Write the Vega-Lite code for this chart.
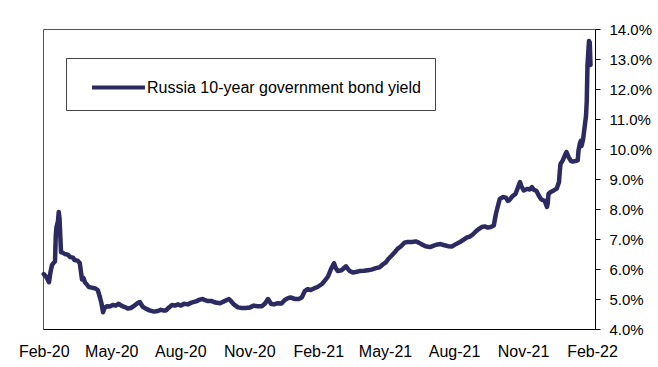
{
  "$schema": "https://vega.github.io/schema/vega-lite/v6.json",
  "width": 552,
  "height": 300,
  "autosize": {"type": "none"},
  "padding": {"left": 43, "top": 29, "right": 63, "bottom": 38},
  "background": "white",
  "config": {
    "font": "Liberation Sans",
    "view": {"stroke": "#555555", "strokeWidth": 1}
  },
  "data": {
    "values": [
      {"date": "2020-02-01", "yield": 5.83},
      {"date": "2020-02-04", "yield": 5.75},
      {"date": "2020-02-08", "yield": 5.56},
      {"date": "2020-02-10", "yield": 5.9},
      {"date": "2020-02-12", "yield": 6.13},
      {"date": "2020-02-14", "yield": 6.2},
      {"date": "2020-02-16", "yield": 6.25},
      {"date": "2020-02-17", "yield": 7.1},
      {"date": "2020-02-18", "yield": 7.4},
      {"date": "2020-02-20", "yield": 7.6},
      {"date": "2020-02-21", "yield": 7.9},
      {"date": "2020-02-22", "yield": 7.7},
      {"date": "2020-02-24", "yield": 6.56},
      {"date": "2020-02-26", "yield": 6.55},
      {"date": "2020-02-29", "yield": 6.5},
      {"date": "2020-03-04", "yield": 6.48},
      {"date": "2020-03-07", "yield": 6.4},
      {"date": "2020-03-11", "yield": 6.38},
      {"date": "2020-03-13", "yield": 6.3},
      {"date": "2020-03-17", "yield": 6.28},
      {"date": "2020-03-20", "yield": 6.2},
      {"date": "2020-03-23", "yield": 5.65},
      {"date": "2020-03-25", "yield": 5.7},
      {"date": "2020-03-27", "yield": 5.55},
      {"date": "2020-03-29", "yield": 5.5},
      {"date": "2020-04-01", "yield": 5.4},
      {"date": "2020-04-05", "yield": 5.38},
      {"date": "2020-04-10", "yield": 5.35},
      {"date": "2020-04-13", "yield": 5.3},
      {"date": "2020-04-16", "yield": 5.05},
      {"date": "2020-04-18", "yield": 4.85},
      {"date": "2020-04-20", "yield": 4.56},
      {"date": "2020-04-22", "yield": 4.7},
      {"date": "2020-04-25", "yield": 4.76},
      {"date": "2020-04-29", "yield": 4.75},
      {"date": "2020-05-03", "yield": 4.8},
      {"date": "2020-05-07", "yield": 4.78},
      {"date": "2020-05-11", "yield": 4.84},
      {"date": "2020-05-15", "yield": 4.77},
      {"date": "2020-05-19", "yield": 4.73},
      {"date": "2020-05-23", "yield": 4.68},
      {"date": "2020-05-27", "yield": 4.7},
      {"date": "2020-06-01", "yield": 4.78},
      {"date": "2020-06-05", "yield": 4.86},
      {"date": "2020-06-08", "yield": 4.9},
      {"date": "2020-06-12", "yield": 4.74},
      {"date": "2020-06-16", "yield": 4.68},
      {"date": "2020-06-21", "yield": 4.62},
      {"date": "2020-06-27", "yield": 4.58},
      {"date": "2020-07-02", "yield": 4.6},
      {"date": "2020-07-06", "yield": 4.64},
      {"date": "2020-07-09", "yield": 4.62},
      {"date": "2020-07-13", "yield": 4.62},
      {"date": "2020-07-17", "yield": 4.72},
      {"date": "2020-07-21", "yield": 4.8},
      {"date": "2020-07-25", "yield": 4.78},
      {"date": "2020-07-29", "yield": 4.82},
      {"date": "2020-08-02", "yield": 4.78},
      {"date": "2020-08-06", "yield": 4.84},
      {"date": "2020-08-11", "yield": 4.82},
      {"date": "2020-08-16", "yield": 4.88},
      {"date": "2020-08-22", "yield": 4.92},
      {"date": "2020-08-27", "yield": 4.98},
      {"date": "2020-08-31", "yield": 5.0},
      {"date": "2020-09-03", "yield": 4.96},
      {"date": "2020-09-07", "yield": 4.93},
      {"date": "2020-09-12", "yield": 4.93},
      {"date": "2020-09-17", "yield": 4.88},
      {"date": "2020-09-23", "yield": 4.86},
      {"date": "2020-09-29", "yield": 4.93},
      {"date": "2020-10-05", "yield": 5.0},
      {"date": "2020-10-07", "yield": 4.95},
      {"date": "2020-10-11", "yield": 4.83},
      {"date": "2020-10-17", "yield": 4.72},
      {"date": "2020-10-22", "yield": 4.7},
      {"date": "2020-10-27", "yield": 4.7},
      {"date": "2020-11-02", "yield": 4.72},
      {"date": "2020-11-07", "yield": 4.78},
      {"date": "2020-11-12", "yield": 4.76},
      {"date": "2020-11-18", "yield": 4.76},
      {"date": "2020-11-22", "yield": 4.85},
      {"date": "2020-11-26", "yield": 5.0},
      {"date": "2020-11-30", "yield": 4.84},
      {"date": "2020-12-04", "yield": 4.82},
      {"date": "2020-12-09", "yield": 4.86},
      {"date": "2020-12-14", "yield": 4.85},
      {"date": "2020-12-18", "yield": 4.96},
      {"date": "2020-12-22", "yield": 5.02},
      {"date": "2020-12-26", "yield": 5.05},
      {"date": "2021-01-01", "yield": 5.0},
      {"date": "2021-01-06", "yield": 5.0},
      {"date": "2021-01-10", "yield": 5.05},
      {"date": "2021-01-14", "yield": 5.26},
      {"date": "2021-01-18", "yield": 5.33},
      {"date": "2021-01-22", "yield": 5.3},
      {"date": "2021-01-27", "yield": 5.36},
      {"date": "2021-01-31", "yield": 5.4},
      {"date": "2021-02-06", "yield": 5.5},
      {"date": "2021-02-10", "yield": 5.62},
      {"date": "2021-02-14", "yield": 5.75},
      {"date": "2021-02-18", "yield": 6.0},
      {"date": "2021-02-22", "yield": 6.19},
      {"date": "2021-02-24", "yield": 6.05},
      {"date": "2021-02-27", "yield": 5.93},
      {"date": "2021-03-04", "yield": 5.96},
      {"date": "2021-03-10", "yield": 6.09},
      {"date": "2021-03-12", "yield": 6.02},
      {"date": "2021-03-15", "yield": 5.93},
      {"date": "2021-03-19", "yield": 5.88},
      {"date": "2021-03-23", "yield": 5.9},
      {"date": "2021-03-28", "yield": 5.93},
      {"date": "2021-04-03", "yield": 5.94},
      {"date": "2021-04-08", "yield": 5.96},
      {"date": "2021-04-13", "yield": 5.98},
      {"date": "2021-04-19", "yield": 6.03},
      {"date": "2021-04-24", "yield": 6.06},
      {"date": "2021-04-28", "yield": 6.15},
      {"date": "2021-05-02", "yield": 6.22},
      {"date": "2021-05-06", "yield": 6.35},
      {"date": "2021-05-10", "yield": 6.45},
      {"date": "2021-05-14", "yield": 6.56},
      {"date": "2021-05-18", "yield": 6.68},
      {"date": "2021-05-22", "yield": 6.75},
      {"date": "2021-05-27", "yield": 6.88},
      {"date": "2021-05-31", "yield": 6.9},
      {"date": "2021-06-06", "yield": 6.9},
      {"date": "2021-06-11", "yield": 6.92},
      {"date": "2021-06-15", "yield": 6.88},
      {"date": "2021-06-19", "yield": 6.82},
      {"date": "2021-06-24", "yield": 6.76},
      {"date": "2021-06-30", "yield": 6.73},
      {"date": "2021-07-05", "yield": 6.78},
      {"date": "2021-07-10", "yield": 6.82},
      {"date": "2021-07-14", "yield": 6.83},
      {"date": "2021-07-18", "yield": 6.8},
      {"date": "2021-07-24", "yield": 6.76},
      {"date": "2021-07-29", "yield": 6.75},
      {"date": "2021-08-03", "yield": 6.82},
      {"date": "2021-08-09", "yield": 6.9},
      {"date": "2021-08-14", "yield": 6.98},
      {"date": "2021-08-18", "yield": 7.05},
      {"date": "2021-08-22", "yield": 7.08},
      {"date": "2021-08-26", "yield": 7.15},
      {"date": "2021-08-30", "yield": 7.25},
      {"date": "2021-09-03", "yield": 7.33},
      {"date": "2021-09-07", "yield": 7.4},
      {"date": "2021-09-11", "yield": 7.42},
      {"date": "2021-09-15", "yield": 7.38},
      {"date": "2021-09-19", "yield": 7.4},
      {"date": "2021-09-23", "yield": 7.45},
      {"date": "2021-09-26", "yield": 7.85},
      {"date": "2021-09-28", "yield": 8.05},
      {"date": "2021-10-01", "yield": 8.33},
      {"date": "2021-10-05", "yield": 8.4},
      {"date": "2021-10-09", "yield": 8.38},
      {"date": "2021-10-12", "yield": 8.27},
      {"date": "2021-10-14", "yield": 8.3},
      {"date": "2021-10-18", "yield": 8.43},
      {"date": "2021-10-22", "yield": 8.5},
      {"date": "2021-10-25", "yield": 8.7},
      {"date": "2021-10-28", "yield": 8.9},
      {"date": "2021-10-30", "yield": 8.75},
      {"date": "2021-11-02", "yield": 8.62},
      {"date": "2021-11-05", "yield": 8.65},
      {"date": "2021-11-07", "yield": 8.67},
      {"date": "2021-11-10", "yield": 8.65},
      {"date": "2021-11-13", "yield": 8.73},
      {"date": "2021-11-15", "yield": 8.65},
      {"date": "2021-11-19", "yield": 8.6},
      {"date": "2021-11-22", "yield": 8.45},
      {"date": "2021-11-25", "yield": 8.33},
      {"date": "2021-11-27", "yield": 8.3},
      {"date": "2021-11-30", "yield": 8.27},
      {"date": "2021-12-03", "yield": 8.07},
      {"date": "2021-12-04", "yield": 8.2},
      {"date": "2021-12-05", "yield": 8.5},
      {"date": "2021-12-08", "yield": 8.57},
      {"date": "2021-12-12", "yield": 8.62},
      {"date": "2021-12-16", "yield": 8.68},
      {"date": "2021-12-19", "yield": 8.9},
      {"date": "2021-12-20", "yield": 9.25},
      {"date": "2021-12-21", "yield": 9.5},
      {"date": "2021-12-24", "yield": 9.62},
      {"date": "2021-12-27", "yield": 9.8},
      {"date": "2021-12-29", "yield": 9.9},
      {"date": "2022-01-01", "yield": 9.72},
      {"date": "2022-01-04", "yield": 9.6},
      {"date": "2022-01-06", "yield": 9.58},
      {"date": "2022-01-10", "yield": 9.6},
      {"date": "2022-01-13", "yield": 9.62},
      {"date": "2022-01-14", "yield": 9.95},
      {"date": "2022-01-16", "yield": 10.2},
      {"date": "2022-01-17", "yield": 10.27},
      {"date": "2022-01-18", "yield": 10.1},
      {"date": "2022-01-20", "yield": 10.3},
      {"date": "2022-01-21", "yield": 10.5},
      {"date": "2022-01-22", "yield": 10.7},
      {"date": "2022-01-24", "yield": 11.1},
      {"date": "2022-01-25", "yield": 11.6},
      {"date": "2022-01-26", "yield": 12.8},
      {"date": "2022-01-28", "yield": 13.6},
      {"date": "2022-01-29", "yield": 13.55},
      {"date": "2022-01-30", "yield": 12.8}
    ]
  },
  "mark": {"type": "line", "strokeWidth": 4.5, "strokeJoin": "round", "strokeCap": "round"},
  "encoding": {
    "x": {
      "field": "date",
      "type": "temporal",
      "scale": {
        "type": "utc",
        "domain": [
          {"year": 2020, "month": 1, "date": 31, "utc": true},
          {"year": 2022, "month": 2, "date": 5, "utc": true}
        ]
      },
      "axis": {
        "title": null,
        "grid": false,
        "ticks": false,
        "tickSize": 0,
        "values": [
          {"year": 2020, "month": 2, "date": 1, "utc": true},
          {"year": 2020, "month": 5, "date": 1, "utc": true},
          {"year": 2020, "month": 8, "date": 1, "utc": true},
          {"year": 2020, "month": 11, "date": 1, "utc": true},
          {"year": 2021, "month": 2, "date": 1, "utc": true},
          {"year": 2021, "month": 5, "date": 1, "utc": true},
          {"year": 2021, "month": 8, "date": 1, "utc": true},
          {"year": 2021, "month": 11, "date": 1, "utc": true},
          {"year": 2022, "month": 2, "date": 1, "utc": true}
        ],
        "labelExpr": "utcFormat(datum.value, '%b-%y')",
        "labelFontSize": 16,
        "labelColor": "#000000",
        "labelPadding": 14,
        "labelFlush": false,
        "labelOverlap": false,
        "domainColor": "#000000",
        "domainWidth": 1
      }
    },
    "y": {
      "field": "yield",
      "type": "quantitative",
      "scale": {"domain": [4, 14], "nice": false, "zero": false},
      "axis": {
        "orient": "right",
        "title": null,
        "grid": false,
        "values": [4, 5, 6, 7, 8, 9, 10, 11, 12, 13, 14],
        "labelExpr": "format(datum.value, '.1f') + '%'",
        "labelFontSize": 15,
        "labelColor": "#000000",
        "labelPadding": 9,
        "labelFlush": false,
        "labelOverlap": false,
        "tickSize": 5,
        "tickColor": "#000000",
        "domainColor": "#000000",
        "domainWidth": 1
      }
    },
    "color": {
      "datum": "Russia 10-year government bond yield",
      "type": "nominal",
      "scale": {"range": ["#2d2a61"]},
      "legend": {
        "title": null,
        "orient": "none",
        "legendX": 23,
        "legendY": 29,
        "padding": 14,
        "strokeColor": "#444444",
        "fillColor": "#ffffff",
        "symbolType": "M-2,0H2",
        "symbolSize": 700,
        "symbolStrokeWidth": 4,
        "symbolOffset": 23,
        "labelFontSize": 16,
        "labelColor": "#000000",
        "labelOffset": 13,
        "labelLimit": 400
      }
    }
  }
}
